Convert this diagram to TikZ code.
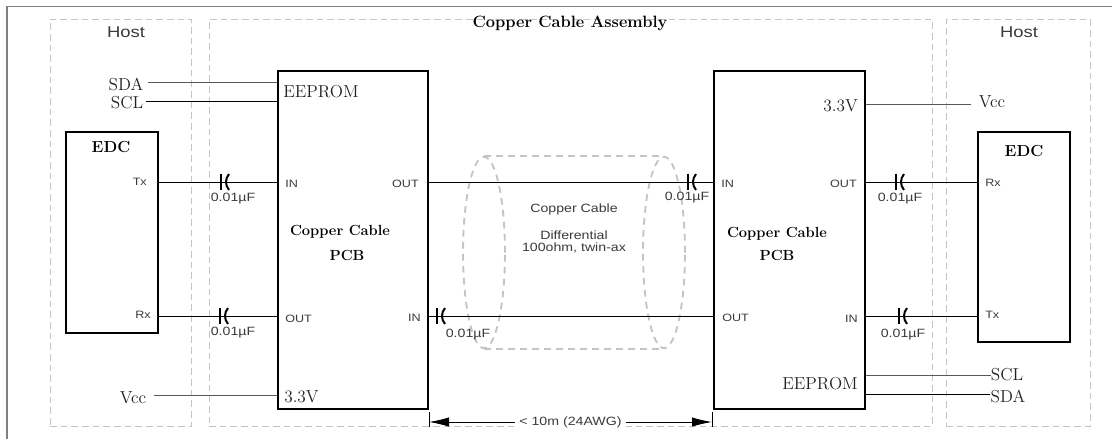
\documentclass[tikz,border=0pt]{standalone}
\usepackage{fontspec}
\usepackage{graphicx}
\usetikzlibrary{fit,shapes.geometric,arrows.meta}
\newfontfamily\arialish{Liberation Sans}
\newcommand{\wdr}[1]{\scalebox{1.18}[1]{#1}}
\definecolor{dashgray}{HTML}{C4C4C4}
\definecolor{txt}{HTML}{3A3A3A}
\definecolor{sertxt}{HTML}{222222}
\tikzset{
  x=0.75pt,y=-0.75pt,
  hostbox/.style={draw=dashgray,dashed,dash pattern=on 5pt off 3pt,line width=0.7pt,inner sep=0pt},
  solidbox/.style={draw=black,line width=1.5pt,inner sep=0pt},
  wire/.style={draw=black,line width=0.7pt},
  thinwire/.style={draw=black!65,line width=0.6pt},
  shield/.style={draw=dashgray,dashed,dash pattern=on 5pt off 4pt,line width=1.4pt},
  endcap/.style={shield,ellipse,inner sep=0pt,minimum width=31.5pt,minimum height=143.5pt},
  sans/.style={inner sep=0pt,text=txt,font=\arialish\fontsize{8}{9}\selectfont},
  val/.style={inner sep=0pt,text=txt,font=\arialish\fontsize{9}{10}\selectfont},
  big/.style={inner sep=0pt,text=txt,font=\arialish\fontsize{11.7}{13}\selectfont},
  ser/.style={inner sep=0pt,text=sertxt,font=\fontsize{13}{15}\selectfont},
  bld/.style={inner sep=0pt,text=black,font=\fontsize{11}{13}\selectfont\bfseries},
  capac/.pic={
    \draw[black,line width=1.5pt] (-4,-8) -- (-4,8);
    \draw[black,line width=1.5pt] (4,-8) .. controls (0,-3) and (0,3) .. (4,8);
  }
}
\begin{document}
\begin{tikzpicture}
\useasboundingbox (0,0) rectangle (1112,439);
% outer page frame
\draw[black!50,line width=1pt] (7,439) -- (7,6.5) -- (1112,6.5);
% dashed zones
\node[hostbox,fit={(50,19) (191,426)}] (hostL) {};
\node[hostbox,fit={(209,19) (932,426)}] (assy) {};
\node[hostbox,fit={(946,19) (1090,426)}] (hostR) {};
% blocks
\node[solidbox,fit={(66,132) (158,333)}] (edcL) {};
\node[solidbox,fit={(278,71) (428,409)}] (pcbL) {};
\node[solidbox,fit={(714,71) (865,409)}] (pcbR) {};
\node[solidbox,fit={(978,132) (1070,342)}] (edcR) {};
% cable shield
\node[endcap] (endA) at (484,252.5) {};
\node[endcap] (endB) at (664,252.5) {};
\draw[shield] (endA.north) -- (endB.north);
\draw[shield] (endA.south) -- (endB.south);
% signal wires
\draw[wire] (edcL.east |- 0,182) -- (pcbL.west |- 0,182);
\draw[wire] (edcL.east |- 0,316) -- (pcbL.west |- 0,316);
\draw[wire] (pcbL.east |- 0,182) -- (pcbR.west |- 0,182);
\draw[wire] (pcbL.east |- 0,316) -- (pcbR.west |- 0,316);
\draw[wire] (pcbR.east |- 0,182) -- (edcR.west |- 0,182);
\draw[wire] (pcbR.east |- 0,316) -- (edcR.west |- 0,316);
% capacitors
\pic at (225,182) {capac};
\pic at (224,316) {capac};
\pic at (441,316) {capac};
\pic at (692,182) {capac};
\pic at (900,182) {capac};
\pic at (903,316) {capac};
% side labels and their lines
\node[ser] (sdaL) at (126,84) {SDA};
\node[ser] (sclL) at (127,103) {SCL};
\node[ser] (vccL) at (133,398) {Vcc};
\node[ser] (vccR) at (992,102) {Vcc};
\node[ser] (sclR) at (1007,375) {SCL};
\node[ser] (sdaR) at (1008,396) {SDA};
\draw[thinwire] (sdaL.east |- 0,82) ++(4,0) -- (pcbL.west |- 0,82);
\draw[wire] (sclL.east |- 0,101) ++(3,0) -- (pcbL.west |- 0,101);
\draw[thinwire] (vccL.east |- 0,395) ++(8,0) -- (pcbL.west |- 0,395);
\draw[thinwire] (pcbR.east |- 0,104) -- (971,104) coordinate (vccEnd);
\draw[thinwire] (pcbR.east |- 0,375) -- (sclR.west |- 0,375);
\draw[wire] (pcbR.east |- 0,394) -- (sdaR.west |- 0,394);
% length dimension
\coordinate (dimA) at (pcbL.east |- 0,412);
\coordinate (dimB) at (712,412);
\draw[black,line width=0.6pt] (dimA) -- ++(0,15);
\draw[black,line width=0.6pt] (dimB) -- ++(0,15);
\draw[black,line width=0.7pt,{Latex[length=15pt,width=7pt]}-{Latex[length=15pt,width=7pt]}] (dimA |- 0,422) -- node[val,fill=white,inner xsep=3pt,inner ysep=1pt] (dimT) {\wdr{< 10m (24AWG)}} (dimB |- 0,422);
% titles
\node[big] (hostLt) at (126,32) {\wdr{Host}};
\node[big] (hostRt) at (1019,32) {\wdr{Host}};
\node[bld,font=\fontsize{12.3}{14}\selectfont\bfseries] (assyT) at (570,23) {Copper Cable Assembly};
\node[bld,font=\fontsize{12}{14}\selectfont\bfseries] (edcLt) at (111,147) {EDC};
\node[bld,font=\fontsize{12}{14}\selectfont\bfseries] (edcRt) at (1024,151) {EDC};
\node[bld] (ccL) at (340,232) {Copper Cable};
\node[bld] (pcbLt) at (347,255) {PCB};
\node[bld] (ccR) at (777,234) {Copper Cable};
\node[bld] (pcbRt) at (777,255) {PCB};
% port labels
\node[ser,anchor=west] (eeL) at (283,92) {EEPROM};
\node[ser,anchor=east] (eeR) at (858,384) {EEPROM};
\node[ser,anchor=west] (v33L) at (284,397) {3.3V};
\node[ser,anchor=east] (v33R) at (858,106) {3.3V};
\node[sans,anchor=east] (txL) at (147,182) {\wdr{Tx}};
\node[sans,anchor=east] (rxL) at (151,315) {\wdr{Rx}};
\node[sans,anchor=west] (rxR) at (985,183) {\wdr{Rx}};
\node[sans,anchor=west] (txR) at (985,315) {\wdr{Tx}};
\node[sans,anchor=west] (inA) at (285,184) {\wdr{IN}};
\node[sans,anchor=west] (outA) at (285,319) {\wdr{OUT}};
\node[sans,anchor=east] (outB) at (419,184) {\wdr{OUT}};
\node[sans,anchor=east] (inB) at (421,318) {\wdr{IN}};
\node[sans,anchor=west] (inC) at (721,184) {\wdr{IN}};
\node[sans,anchor=west] (outC) at (722,318) {\wdr{OUT}};
\node[sans,anchor=east] (outD) at (857,184) {\wdr{OUT}};
\node[sans,anchor=east] (inD) at (858,319) {\wdr{IN}};
% capacitor values
\node[val] (c1) at (233,199) {\wdr{0.01µF}};
\node[val] (c2) at (233,333) {\wdr{0.01µF}};
\node[val] (c3) at (468,335) {\wdr{0.01µF}};
\node[val] (c4) at (687,198) {\wdr{0.01µF}};
\node[val] (c5) at (900,199) {\wdr{0.01µF}};
\node[val] (c6) at (903,335) {\wdr{0.01µF}};
% cable text
\node[val] (cab1) at (574,209) {\wdr{Copper Cable}};
\node[val] (cab2) at (574,235) {\wdr{Differential}};
\node[val] (cab3) at (574,248) {\wdr{100ohm, twin-ax}};
\end{tikzpicture}
\end{document}
